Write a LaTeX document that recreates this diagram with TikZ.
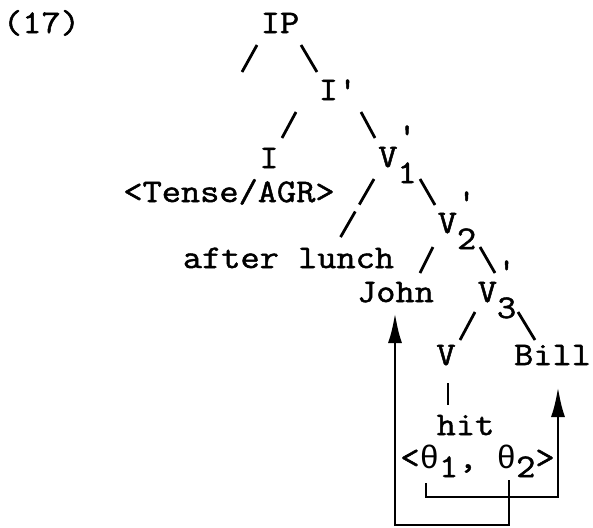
\documentclass[tikz,border=0pt]{standalone}
\usepackage{fontspec}
\setmonofont{Latin Modern Mono}[FakeStretch=1.13,FakeBold=1.5]
\newfontfamily\thetafont{Liberation Mono}
\usetikzlibrary{arrows.meta}
\newcommand{\barV}[1]{V\rlap{\raisebox{-8pt}{#1}}\raisebox{10.5pt}{'}}
\newcommand{\lowsub}[1]{\raisebox{-4.5pt}{#1}}
\newcommand{\thetarole}{{\thetafont\fontsize{16.25pt}{19pt}\selectfont θ}}

\begin{document}
\begin{tikzpicture}[x=0.5pt,y=-0.5pt,
  word/.style={inner sep=0pt, anchor=base, font=\ttfamily\fontsize{16.5pt}{19pt}\selectfont},
  branch/.style={line width=1.4pt},
  link/.style={line width=1.4pt, -{Latex[length=15pt,width=7pt]}}]
\useasboundingbox (0,0) rectangle (593,527);
% Example number
\node[word] (ex) at (41.5,33) {(17)};

% Tree
\node[word] (ip) at (280,33) {IP};
\coordinate (spec) at (242,72);
\node[word] (ibar) at (338,100) {I'};
\node[word] (infl) at (269,168) {I};
\node[word] (tense) at (229,202) {<Tense/AGR>};
\node[word] (vone) at (397.5,167) {\barV{1}};
\node[word] (after) at (288.5,268) {after lunch};
\node[word] (vtwo) at (457,233) {\barV{2}};
\node[word] (john) at (395.5,302) {John};
\node[word] (vthree) at (497,302) {\barV{3}};
\node[word] (verb) at (446,365) {V};
\node[word] (bill) at (552.5,365) {Bill};
\node[word] (hit) at (465.5,435) {hit};
\node[word] (grid) at (477.5,468) {<\thetarole\lowsub{1}, \thetarole\lowsub{2}>};

% Branches
\draw[branch] ([shift={(-23,12)}]ip.base) -- (spec);
\draw[branch] ([shift={(21,12)}]ip.base) -- ([shift={(-21,-28)}]ibar.base);
\draw[branch] ([shift={(-42,12)}]ibar.base) -- ([shift={(13,-30)}]infl.base);
\draw[branch] ([shift={(23,12)}]ibar.base) -- ([shift={(-22.5,-29)}]vone.base);
\draw[branch, dash pattern=on 14.75pt off 4pt] ([shift={(-23.5,12)}]vone.base) -- ([shift={(51.5,-30)}]after.base);
\draw[branch] ([shift={(22.5,12)}]vone.base) -- ([shift={(-22,-28)}]vtwo.base);
\draw[branch] ([shift={(-24,14)}]vtwo.base) -- ([shift={(24.5,-29)}]john.base);
\draw[branch] ([shift={(23,14)}]vtwo.base) -- ([shift={(-2,-29)}]vthree.base);
\draw[branch] ([shift={(-22,10)}]vthree.base) -- ([shift={(14,-25)}]verb.base);
\draw[branch] ([shift={(21,10)}]vthree.base) -- ([shift={(-17.5,-25)}]bill.base);
\draw[branch] ([shift={(2,18)}]verb.base) -- ([shift={(-17.5,-30)}]hit.base);

% Theta assignment
\draw[link] ([shift={(-51.5,15)}]grid.base) -- ++(0,14) -| ([shift={(5.5,22)}]bill.base);
\draw[link] ([shift={(31.5,12)}]grid.base) -- ++(0,45) -| ([shift={(-0.5,11)}]john.base);
\end{tikzpicture}
\end{document}
